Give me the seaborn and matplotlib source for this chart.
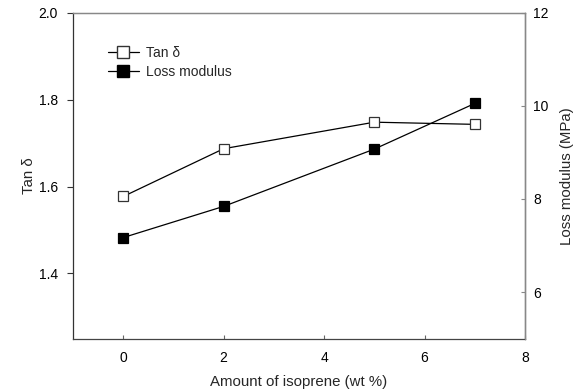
import matplotlib
matplotlib.use("Agg")
import matplotlib.pyplot as plt
import seaborn as sns
import pandas as pd
from matplotlib.lines import Line2D

isoprene = [0, 2, 5, 7]
tan_delta = [1.577, 1.687, 1.748, 1.743]
loss_modulus = [7.17, 7.84, 9.07, 10.05]

x_ticks = [0, 2, 4, 6, 8]
left_ticks = [1.4, 1.6, 1.8, 2.0]
right_ticks = [6, 8, 10, 12]

sns.set_style("white")
plt.rcParams['font.family'] = ['Liberation Sans', 'DejaVu Sans']
plt.rcParams['font.size'] = 10

df = pd.DataFrame({"x": isoprene, "tan": tan_delta, "loss": loss_modulus})

fig = plt.figure(figsize=(5.75, 3.91), dpi=100)
ax = fig.add_axes([0.127, 0.134, 0.786, 0.8336])
ax2 = ax.twinx()

sns.lineplot(data=df, x="x", y="tan", ax=ax, color="black", lw=0.9,
             marker="s", markersize=7.5, markerfacecolor="white",
             markeredgecolor="#333333", markeredgewidth=0.9)
sns.lineplot(data=df, x="x", y="loss", ax=ax2, color="black", lw=0.9,
             marker="s", markersize=7.5, markerfacecolor="black",
             markeredgecolor="black", markeredgewidth=0.9)

ax.set_xlim(-1, 8)
ax.set_ylim(1.25, 2.0)
ax2.set_ylim(5, 12)
ax.set_xticks(x_ticks)
ax.set_yticks(left_ticks)
ax2.set_yticks(right_ticks)
ax.set_xticklabels([str(t) for t in x_ticks])
ax.set_yticklabels([f"{t:.1f}" for t in left_ticks])
ax2.set_yticklabels([str(t) for t in right_ticks])

ax.set_xlabel("Amount of isoprene (wt %)", fontsize=10.8, labelpad=7)
ax.set_ylabel("Tan δ", fontsize=10.8, labelpad=2)
ax2.set_ylabel("Loss modulus (MPa)", fontsize=10.8, labelpad=8)

for a in (ax, ax2):
    for s in a.spines.values():
        s.set_visible(True)
        s.set_linewidth(0.9)
ax.spines['left'].set_color('#333333')
ax.spines['bottom'].set_color('#444444')
ax.spines['top'].set_color('#888888')
ax2.spines['right'].set_color('#888888')
ax2.spines['top'].set_color('#888888')
ax2.spines['left'].set_visible(False)
ax2.spines['bottom'].set_visible(False)

ax.tick_params(axis='y', direction='out', length=4, width=0.8, colors='#333333', labelcolor='black', labelsize=10, pad=7, left=True)
ax.tick_params(axis='x', direction='in', length=3, width=0.8, colors='#666666', labelcolor='black', labelsize=10, pad=9, bottom=True)
ax2.tick_params(axis='y', direction='in', length=3, width=0.8, colors='#888888', labelcolor='black', labelsize=10, pad=6, right=True)

handles = [
    Line2D([], [], color="black", lw=0.9, marker="s", markersize=8,
           markerfacecolor="white", markeredgecolor="#333333"),
    Line2D([], [], color="black", lw=0.9, marker="s", markersize=8,
           markerfacecolor="black", markeredgecolor="black"),
]
ax.legend(handles, ["Tan δ", "Loss modulus"], loc="upper left",
          bbox_to_anchor=(0.05, 0.935), frameon=False, fontsize=10,
          handlelength=2.2, handletextpad=0.5, labelspacing=0.3)

fig.savefig("out.png", dpi=100)
